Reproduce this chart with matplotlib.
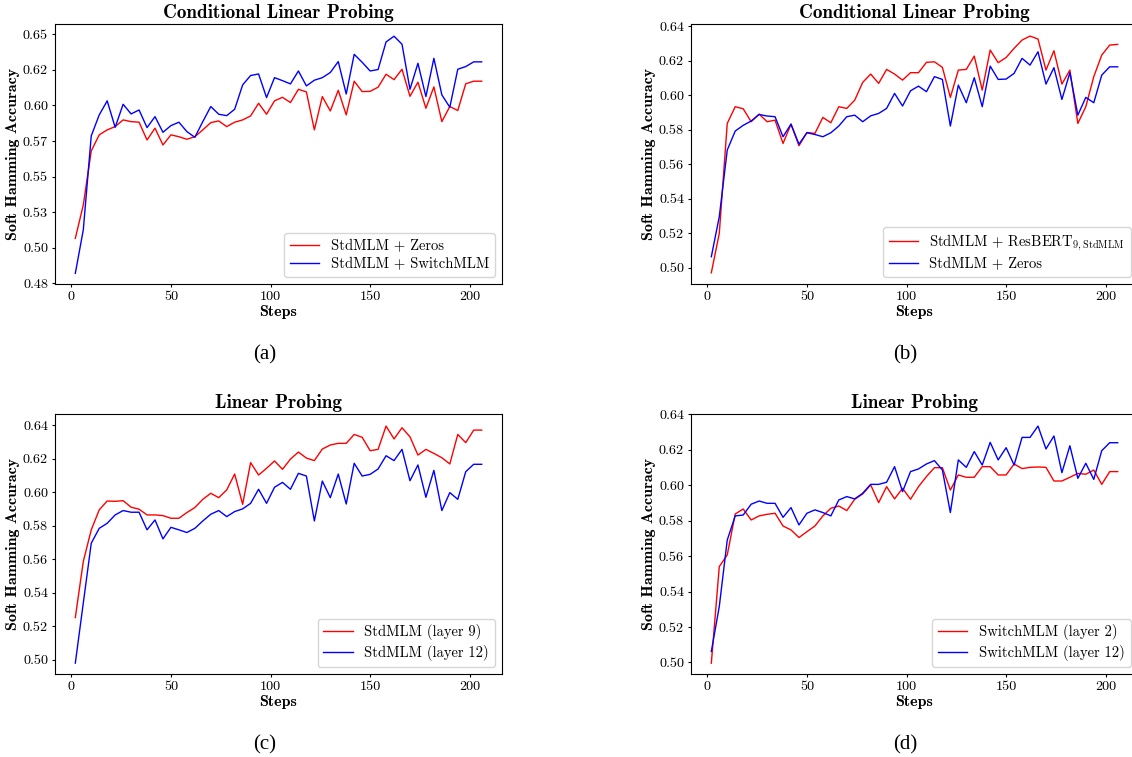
import matplotlib
matplotlib.use("Agg")
import matplotlib.pyplot as plt
import numpy as np

# training steps (every 4 steps, last point repeated)
steps = np.arange(2, 207, 4)

# (a) conditional linear probing
a_zeros = [0.5066, 0.530, 0.568, 0.5793, 0.5828, 0.5851, 0.5898, 0.5886, 0.5882, 0.5757,
           0.584, 0.5722, 0.5793, 0.578, 0.5762, 0.578, 0.5828, 0.5879, 0.5891, 0.5851,
           0.5882, 0.5898, 0.5926, 0.6015, 0.5938, 0.6032, 0.6057, 0.602, 0.6113, 0.6095,
           0.5828, 0.6062, 0.5961, 0.6106, 0.5933, 0.617, 0.6097, 0.6099, 0.6128, 0.6219,
           0.6181, 0.6254, 0.6064, 0.6163, 0.598, 0.613, 0.5886, 0.5992, 0.5964, 0.6152,
           0.617, 0.617]
a_switch = [0.482, 0.5125, 0.5786, 0.5933, 0.6032, 0.5846, 0.6008, 0.594, 0.5968, 0.5844,
            0.5921, 0.5811, 0.5858, 0.5882, 0.5816, 0.5776, 0.5886, 0.5992, 0.5938, 0.5928,
            0.5973, 0.6144, 0.621, 0.6221, 0.6055, 0.6195, 0.6174, 0.6151, 0.6242, 0.6137,
            0.6177, 0.6195, 0.6231, 0.6308, 0.608, 0.6359, 0.6303, 0.6242, 0.6252, 0.6446,
            0.6486, 0.643, 0.6113, 0.6296, 0.6062, 0.6331, 0.6074, 0.5987, 0.6254, 0.6273,
            0.6306, 0.6306]

# (b) conditional linear probing
b_resbert = [0.4971, 0.5199, 0.5836, 0.5933, 0.5921, 0.5846, 0.589, 0.5846, 0.5855, 0.572,
             0.5832, 0.5707, 0.5784, 0.5778, 0.5871, 0.584, 0.5933, 0.5923, 0.5971, 0.6074,
             0.6122, 0.6068, 0.6149, 0.6122, 0.6087, 0.613, 0.613, 0.619, 0.6193, 0.6161,
             0.5987, 0.6145, 0.6149, 0.6226, 0.6029, 0.6261, 0.6188, 0.6218, 0.6271, 0.6319,
             0.6342, 0.6325, 0.6145, 0.6257, 0.6064, 0.6145, 0.5836, 0.5933, 0.6107, 0.6232,
             0.629, 0.6294]
b_zeros = [0.5064, 0.5296, 0.5682, 0.5792, 0.5825, 0.585, 0.5888, 0.5879, 0.5875, 0.5759,
           0.5832, 0.5716, 0.5782, 0.5772, 0.5759, 0.5782, 0.5821, 0.5875, 0.5884, 0.5846,
           0.588, 0.5894, 0.5923, 0.601, 0.5937, 0.6025, 0.6052, 0.602, 0.6107, 0.6091,
           0.5821, 0.6058, 0.5956, 0.6101, 0.5933, 0.6168, 0.6091, 0.6093, 0.6126, 0.6213,
           0.6174, 0.6251, 0.6064, 0.6159, 0.5975, 0.613, 0.5884, 0.5987, 0.5956, 0.6116,
           0.6164, 0.6164]

# (c) linear probing, StdMLM
c_layer9 = [0.5252, 0.5586, 0.5775, 0.5894, 0.5947, 0.5945, 0.5949, 0.591, 0.5898, 0.5864,
            0.5864, 0.586, 0.5844, 0.5844, 0.5878, 0.5908, 0.5957, 0.5993, 0.5967, 0.6013,
            0.6108, 0.5927, 0.6176, 0.6102, 0.6142, 0.6186, 0.6136, 0.6197, 0.6239, 0.6203,
            0.6188, 0.6257, 0.6281, 0.6291, 0.6291, 0.6344, 0.6327, 0.6247, 0.6255, 0.6394,
            0.6317, 0.6384, 0.633, 0.6221, 0.6255, 0.6231, 0.6205, 0.6168, 0.6344, 0.6295,
            0.637, 0.637]
c_layer12 = [0.498, 0.5338, 0.5695, 0.5784, 0.5814, 0.5864, 0.589, 0.588, 0.588, 0.5775,
             0.5834, 0.5721, 0.579, 0.5775, 0.5759, 0.5784, 0.5828, 0.5868, 0.589, 0.5854,
             0.5884, 0.59, 0.5933, 0.6017, 0.5933, 0.6029, 0.6058, 0.6017, 0.6112, 0.6096,
             0.5828, 0.6066, 0.5967, 0.6108, 0.5929, 0.6172, 0.6096, 0.6106, 0.6138, 0.6217,
             0.6188, 0.6255, 0.6068, 0.6162, 0.5969, 0.613, 0.589, 0.5997, 0.5957, 0.6122,
             0.6166, 0.6166]

# (d) linear probing, SwitchMLM
d_layer2 = [0.4996, 0.5541, 0.5607, 0.5838, 0.5866, 0.5804, 0.5827, 0.5836, 0.5842, 0.577,
            0.5748, 0.5705, 0.5738, 0.577, 0.5827, 0.587, 0.5883, 0.5857, 0.5921, 0.5951,
            0.6002, 0.5902, 0.5992, 0.5923, 0.5983, 0.5921, 0.5992, 0.6049, 0.6099, 0.6099,
            0.5973, 0.6058, 0.6045, 0.6045, 0.6105, 0.6105, 0.6058, 0.6058, 0.612, 0.6094,
            0.6101, 0.6103, 0.6101, 0.6024, 0.6024, 0.6045, 0.6067, 0.6062, 0.6086, 0.6005,
            0.6077, 0.6077]
d_layer12 = [0.5062, 0.5316, 0.5691, 0.5827, 0.5832, 0.5893, 0.5911, 0.5898, 0.5898, 0.5819,
             0.5874, 0.5776, 0.5842, 0.5861, 0.5846, 0.5827, 0.5917, 0.5936, 0.5923, 0.5955,
             0.6005, 0.6005, 0.6017, 0.6105, 0.5964, 0.6077, 0.6092, 0.612, 0.6139, 0.6086,
             0.5846, 0.6143, 0.6101, 0.619, 0.6114, 0.6242, 0.6143, 0.6212, 0.6114, 0.627,
             0.627, 0.6334, 0.6205, 0.6278, 0.6071, 0.6223, 0.6039, 0.6124, 0.6033, 0.6195,
             0.624, 0.624]

a_ticks = [0.475, 0.5, 0.525, 0.55, 0.575, 0.6, 0.625, 0.65]
a_ticklabels = ["0.48", "0.50", "0.53", "0.55", "0.57", "0.60", "0.62", "0.65"]
bcd_ticks = [0.50, 0.52, 0.54, 0.56, 0.58, 0.60, 0.62, 0.64]
bcd_ticklabels = ["0.50", "0.52", "0.54", "0.56", "0.58", "0.60", "0.62", "0.64"]


def panel(fig, rect, red, blue, labels, title, ylim, ticks, ticklabels):
    ax = fig.add_axes(rect)
    ax.plot(steps, red, color="red", lw=1.0, label=labels[0])
    ax.plot(steps, blue, color="blue", lw=1.0, label=labels[1])
    ax.set_xlim(-8.2, 216.2)
    ax.set_ylim(*ylim)
    ax.set_xticks([0, 50, 100, 150, 200])
    ax.set_yticks(ticks)
    ax.set_yticklabels(ticklabels)
    ax.tick_params(labelsize=10.2, length=2.5, width=0.8, pad=2.5)
    ax.set_title(title, fontfamily="cmb10", fontsize=13.8, pad=4)
    ax.set_xlabel("Steps", fontfamily="cmb10", fontsize=11.5)
    ax.xaxis.set_label_coords(0.5, -0.082)
    ax.set_ylabel("Soft Hamming Accuracy", fontfamily="cmb10", fontsize=11.5)
    ax.yaxis.set_label_coords(-0.078, 0.5)
    ax.legend(loc="lower right", fontsize=10.5, handlelength=2.0, labelspacing=0.3)
    return ax


def main():
    plt.rcParams["font.family"] = "serif"
    plt.rcParams["font.serif"] = ["cmr10"]
    plt.rcParams["mathtext.fontset"] = "cm"
    plt.rcParams["axes.unicode_minus"] = False

    W, H = 1132, 757
    fig = plt.figure(figsize=(W / 100, H / 100), dpi=100)

    def rect(l, r, t, b):
        return [l / W, 1 - b / H, (r - l) / W, (b - t) / H]

    panel(fig, rect(55, 502, 24, 284), a_zeros, a_switch,
          ["StdMLM + Zeros", "StdMLM + SwitchMLM"],
          "Conditional Linear Probing", (0.4745, 0.6572), a_ticks, a_ticklabels)
    panel(fig, rect(691, 1138, 24, 284), b_resbert, b_zeros,
          [r"StdMLM + ResBERT$_{9,\mathrm{StdMLM}}$", "StdMLM + Zeros"],
          "Conditional Linear Probing", (0.4906, 0.6412), bcd_ticks, bcd_ticklabels)
    panel(fig, rect(55, 502, 414, 674), c_layer9, c_layer12,
          ["StdMLM (layer 9)", "StdMLM (layer 12)"],
          "Linear Probing", (0.4915, 0.6466), bcd_ticks, bcd_ticklabels)
    panel(fig, rect(691, 1138, 414, 674), d_layer2, d_layer12,
          ["SwitchMLM (layer 2)", "SwitchMLM (layer 12)"],
          "Linear Probing", (0.4935, 0.6402), bcd_ticks, bcd_ticklabels)

    for lab, x, y in [("(a)", 265, 355), ("(b)", 905, 355), ("(c)", 265, 745), ("(d)", 905, 745)]:
        fig.text(x / W, 1 - y / H, lab, ha="center", va="center",
                 fontfamily="Liberation Serif", fontsize=15)

    fig.savefig("out.png", dpi=100)


if __name__ == "__main__":
    main()
